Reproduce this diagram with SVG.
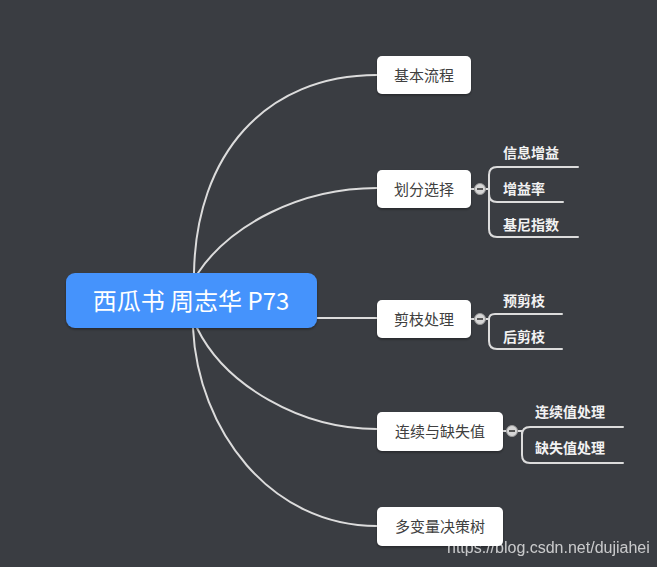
<svg xmlns="http://www.w3.org/2000/svg" width="657" height="567" viewBox="0 0 657 567">
<defs>
<style>
.bg{fill:#3a3d42}
.conn path{fill:none;stroke:#dcdcdc;stroke-width:2;stroke-linecap:round}
.node rect{fill:#ffffff}
.ntext{font-family:"Noto Sans CJK SC","Noto Sans",sans-serif;font-size:15px;fill:#404040;text-anchor:middle}
.ctext{font-family:"Noto Sans CJK SC","Noto Sans",sans-serif;font-size:24px;fill:#ffffff;text-anchor:middle}
.stext{font-family:"Noto Sans CJK SC","Noto Sans",sans-serif;font-size:14px;font-weight:bold;fill:#f2f2f2}
.btn circle{fill:#d6d6d6;stroke:#9a9a9a;stroke-width:1}
.btn line{stroke:#555;stroke-width:2}
.wm{font-family:"Liberation Sans",Arial,sans-serif;font-size:16px;fill:#ffffff;opacity:0.72}
</style>
<filter id="sh" x="-10%" y="-20%" width="120%" height="150%">
<feDropShadow dx="0" dy="1.5" stdDeviation="1.2" flood-color="#000" flood-opacity="0.35"/>
</filter>
</defs>
<rect class="bg" x="0" y="0" width="657" height="567"/>
<g id="connectors" class="conn">
<path d="M194,285 L194,273 C196,155 265,75 377,75"/>
<path d="M198,285 L198,273 C230,225 300,188 377,188"/>
<path d="M300,318 L317,318 C340,318 350,318 377,318"/>
<path d="M197,318 L197,328 C225,385 300,429 377,429"/>
<path d="M193,318 L193,328 C198,430 270,526 377,526"/>
<path d="M471,189 H476"/>
<path d="M484,189 H489 V175 Q489,167 497,167 H578"/>
<path d="M484,189 H489 V194 Q489,202 497,202 H563"/>
<path d="M484,189 H489 V229 Q489,237 497,237 H578"/>
<path d="M471,319 H476"/>
<path d="M484,319 H489 Q489,314 495,314 H562"/>
<path d="M484,319 H489 V341 Q489,349 497,349 H562"/>
<path d="M503,431 H508"/>
<path d="M516,431 H522 V435 Q522,427 530,427 H623"/>
<path d="M516,431 H522 V455 Q522,463 530,463 H623"/>
</g>
<g id="root" class="node">
<rect x="66" y="273" width="251" height="55" rx="9" style="fill:#4593fc" filter="url(#sh)"/>
<text class="ctext" x="191" y="310">西瓜书 周志华 P73</text>
</g>
<g id="n-jibenliucheng" class="node">
<rect x="377" y="56" width="94" height="38" rx="5" filter="url(#sh)"/>
<text class="ntext" x="424" y="81">基本流程</text>
</g>
<g id="n-huafenxuanze" class="node">
<rect x="377" y="170" width="94" height="38" rx="5" filter="url(#sh)"/>
<text class="ntext" x="424" y="195">划分选择</text>
<g class="btn"><circle cx="480" cy="189" r="5.5"/><line x1="477" y1="189" x2="483" y2="189"/></g>
</g>
<g id="n-xinxizengyi"><text class="stext" x="503" y="158">信息增益</text></g>
<g id="n-zengyilv"><text class="stext" x="503" y="194">增益率</text></g>
<g id="n-jinizhishu"><text class="stext" x="503" y="230">基尼指数</text></g>
<g id="n-jianzhichuli" class="node">
<rect x="377" y="300" width="94" height="38" rx="5" filter="url(#sh)"/>
<text class="ntext" x="424" y="325">剪枝处理</text>
<g class="btn"><circle cx="480" cy="319" r="5.5"/><line x1="477" y1="319" x2="483" y2="319"/></g>
</g>
<g id="n-yujianzhi"><text class="stext" x="503" y="306">预剪枝</text></g>
<g id="n-houjianzhi"><text class="stext" x="503" y="342">后剪枝</text></g>
<g id="n-lianxuyuqueshizhi" class="node">
<rect x="377" y="412" width="126" height="39" rx="5" filter="url(#sh)"/>
<text class="ntext" x="440" y="437">连续与缺失值</text>
<g class="btn"><circle cx="512" cy="431" r="5.5"/><line x1="509" y1="431" x2="515" y2="431"/></g>
</g>
<g id="n-lianxuzhichuli"><text class="stext" x="535" y="417">连续值处理</text></g>
<g id="n-queshizhichuli"><text class="stext" x="535" y="453">缺失值处理</text></g>
<g id="n-duobianliang" class="node">
<rect x="377" y="507" width="126" height="39" rx="5" filter="url(#sh)"/>
<text class="ntext" x="440" y="532">多变量决策树</text>
</g>
<text class="wm" x="447" y="553">https://blog.csdn.net/dujiahei</text>
</svg>
